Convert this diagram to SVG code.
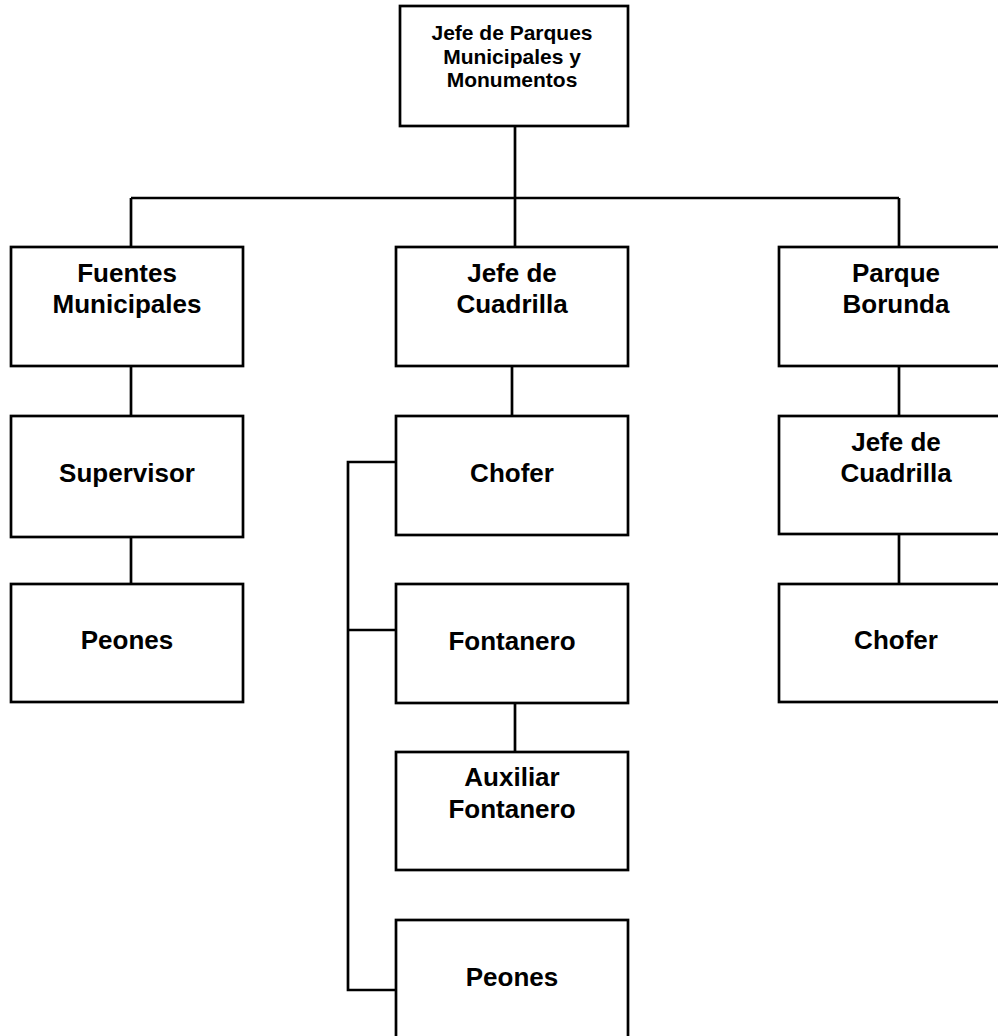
<svg xmlns="http://www.w3.org/2000/svg" width="998" height="1036" viewBox="0 0 998 1036">
<style>
.box{fill:#fff;stroke:#000;stroke-width:2.7}
.ln{fill:none;stroke:#000;stroke-width:2.7}
.t{font-family:"Liberation Sans",Arial,sans-serif;font-weight:bold;font-size:26px;text-anchor:middle;fill:#000}
.ts{font-size:21px}
</style>
<rect width="998" height="1036" fill="#fff"/>
<g id="connectors">
<path class="ln" d="M515 126V198M131 198H899M131 198V247M515 198V247M899 198V247"/>
<path class="ln" d="M131 366V416M131 537V584"/>
<path class="ln" d="M512 366V416M515 703V752"/>
<path class="ln" d="M396 462H348V990H396M348 630H396"/>
<path class="ln" d="M899 366V416M899 534V584"/>
</g>
<g id="n_jefe_parques">
<rect class="box" x="400" y="6" width="228" height="120"/>
<text class="t ts" x="512" y="40">Jefe de Parques</text>
<text class="t ts" x="512" y="63.5">Municipales y</text>
<text class="t ts" x="512" y="87">Monumentos</text>
</g>
<g id="n_fuentes">
<rect class="box" x="11" y="247" width="232" height="119"/>
<text class="t" x="127" y="282">Fuentes</text>
<text class="t" x="127" y="313">Municipales</text>
</g>
<g id="n_supervisor">
<rect class="box" x="11" y="416" width="232" height="121"/>
<text class="t" x="127" y="482">Supervisor</text>
</g>
<g id="n_peones_left">
<rect class="box" x="11" y="584" width="232" height="118"/>
<text class="t" x="127" y="649">Peones</text>
</g>
<g id="n_jefe_cuadrilla_mid">
<rect class="box" x="396" y="247" width="232" height="119"/>
<text class="t" x="512" y="282">Jefe de</text>
<text class="t" x="512" y="313">Cuadrilla</text>
</g>
<g id="n_chofer_mid">
<rect class="box" x="396" y="416" width="232" height="119"/>
<text class="t" x="512" y="482">Chofer</text>
</g>
<g id="n_fontanero">
<rect class="box" x="396" y="584" width="232" height="119"/>
<text class="t" x="512" y="650">Fontanero</text>
</g>
<g id="n_auxiliar">
<rect class="box" x="396" y="752" width="232" height="118"/>
<text class="t" x="512" y="786">Auxiliar</text>
<text class="t" x="512" y="818">Fontanero</text>
</g>
<g id="n_peones_mid">
<rect class="box" x="396" y="920" width="232" height="130"/>
<text class="t" x="512" y="986">Peones</text>
</g>
<g id="n_parque_borunda">
<rect class="box" x="779" y="247" width="234" height="119"/>
<text class="t" x="896" y="282">Parque</text>
<text class="t" x="896" y="313">Borunda</text>
</g>
<g id="n_jefe_cuadrilla_right">
<rect class="box" x="779" y="416" width="234" height="118"/>
<text class="t" x="896" y="451">Jefe de</text>
<text class="t" x="896" y="482">Cuadrilla</text>
</g>
<g id="n_chofer_right">
<rect class="box" x="779" y="584" width="234" height="118"/>
<text class="t" x="896" y="649">Chofer</text>
</g>
</svg>
